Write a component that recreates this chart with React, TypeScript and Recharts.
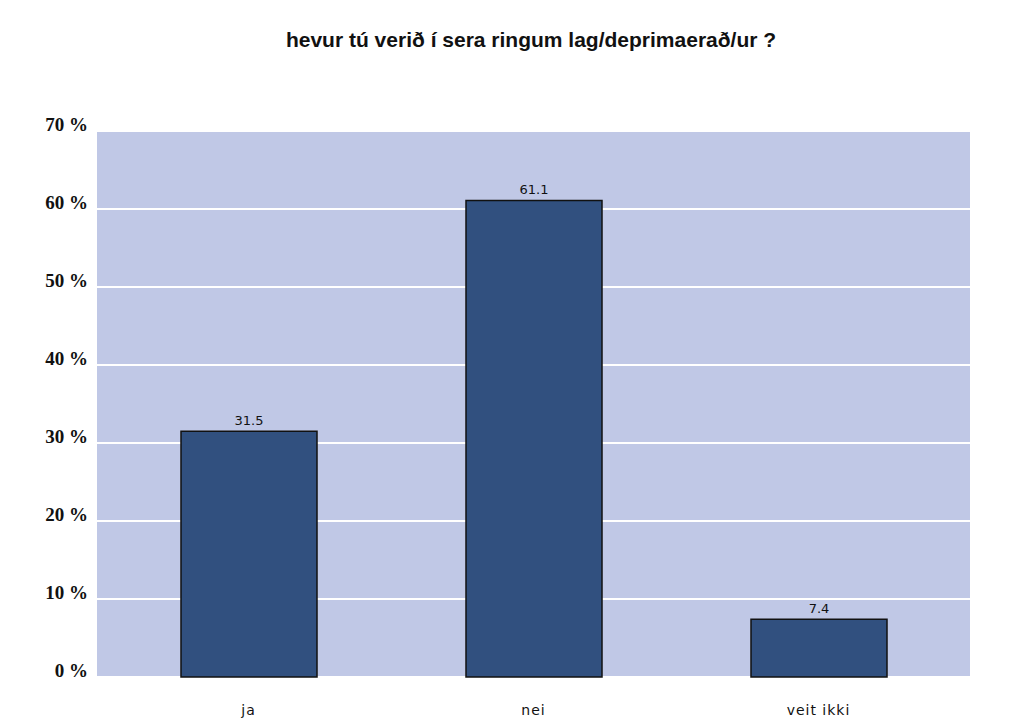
import { BarChart, Bar, XAxis, YAxis, CartesianGrid, LabelList } from "recharts";

const categories = ["ja", "nei", "veit ikki"];
const percentages = [31.5, 61.1, 7.4];
const yTicks = [0, 10, 20, 30, 40, 50, 60, 70];

const title = "hevur tú verið í sera ringum lag/deprimaerað/ur ?";

const data = categories.map((name, i) => ({ name, value: percentages[i] }));

function YTick({ x, y, payload }: { x?: number; y?: number; payload?: { value: number } }) {
  return (
    <text
      x={x}
      y={(y ?? 0) - 7}
      textAnchor="end"
      dominantBaseline="central"
      fontFamily="'Liberation Serif', 'Times New Roman', serif"
      fontWeight="bold"
      fontSize={19}
      fill="#111"
    >
      {`${payload?.value} %`}
    </text>
  );
}

export default function App() {
  return (
    <div style={{ position: "absolute", left: 0, top: 0, width: 1030, height: 720, background: "#fff" }}>
      <svg width={1030} height={60} style={{ position: "absolute", left: 0, top: 0 }}>
        <text
          x={531}
          y={47}
          textAnchor="middle"
          fontFamily="'Liberation Sans', Arial, sans-serif"
          fontWeight="bold"
          fontSize={21}
          fill="#111"
        >
          {title}
        </text>
      </svg>
      <BarChart
        width={1030}
        height={720}
        data={data}
        margin={{ top: 131, right: 60, bottom: 0, left: 7 }}
        style={{ position: "absolute", left: 0, top: 0 }}
      >
        <CartesianGrid fill="#c0c8e6" stroke="#ffffff" strokeWidth={2} vertical={false} />
        <XAxis
          dataKey="name"
          height={43}
          padding={{ left: 9, right: 9 }}
          axisLine={false}
          tickLine={false}
          tickSize={0}
          tickMargin={28}
          tick={{ fill: "#111", fontSize: 14, fontFamily: "'DejaVu Sans', Verdana, sans-serif", letterSpacing: 1 }}
        />
        <YAxis
          width={90}
          domain={[0, 70]}
          ticks={yTicks}
          interval={0}
          axisLine={false}
          tickLine={false}
          tickSize={0}
          tickMargin={9}
          tick={<YTick />}
        />
        <Bar dataKey="value" fill="#31507f" stroke="#111" strokeWidth={1.5} barSize={136} isAnimationActive={false}>
          <LabelList
            dataKey="value"
            position="top"
            offset={6}
            fill="#111"
            fontSize={13}
            fontFamily="'DejaVu Sans', Verdana, sans-serif"
          />
        </Bar>
      </BarChart>
    </div>
  );
}
